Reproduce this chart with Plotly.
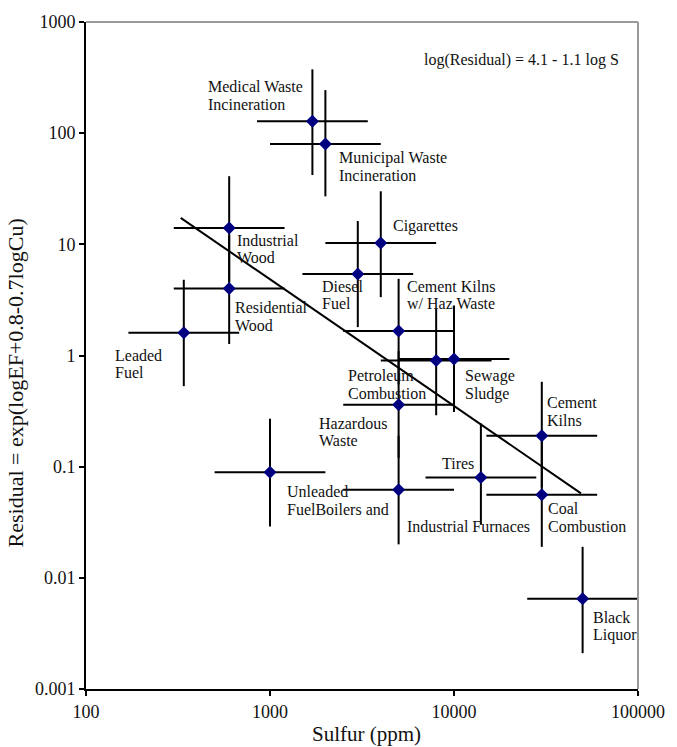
import math
import plotly.graph_objects as go

# ---- data ----
names = ["Medical Waste<br>Incineration", "Municipal Waste<br>Incineration", "Industrial<br>Wood",
         "Cigarettes", "Diesel<br>Fuel", "Cement Kilns<br>w/ Haz Waste", "Residential<br>Wood",
         "Leaded<br>Fuel", "Petroleum<br>Combustion", "Sewage<br>Sludge", "Hazardous<br>Waste",
         "Cement<br>Kilns", "Tires", "Unleaded<br>FuelBoilers and", "Industrial Furnaces",
         "Coal<br>Combustion", "Black<br>Liquor"]
sulfur = [1700, 2000, 600, 4000, 3000, 5000, 600, 340, 8000, 10000, 5000, 30000, 14000, 1000, 5000, 30000, 50000]
residual = [128, 80, 14, 10.3, 5.4, 1.66, 4.0, 1.6, 0.90, 0.93, 0.36, 0.19, 0.080, 0.089, 0.062, 0.056, 0.0065]
sulfur_lo = [850, 1000, 300, 2000, 1500, 2500, 300, 170, 4000, 5000, 2500, 15000, 7000, 500, 2500, 15000, 25000]
sulfur_hi = [3400, 4000, 1200, 8000, 6000, 10000, 1200, 680, 16000, 20000, 10000, 60000, 28000, 2000, 10000, 60000, 100000]
resid_lo = [42, 27, 4.6, 3.35, 1.8, 0.55, 1.27, 0.53, 0.29, 0.31, 0.12, 0.065, 0.030, 0.029, 0.020, 0.019, 0.0021]
resid_hi = [375, 244, 41, 30, 16.2, 4.9, 12, 4.8, 2.64, 2.82, 1.1, 0.58, 0.245, 0.27, 0.19, 0.17, 0.019]

fit_sulfur = [327, 49000]
fit_residual = [17.3, 0.0575]

x_ticks = [100, 1000, 10000, 100000]
x_ticktext = ["100", "1000", "10000", "100000"]
y_ticks = [0.001, 0.01, 0.1, 1, 10, 100, 1000]
y_ticktext = ["0.001", "0.01", "0.1", "1", "10", "100", "1000"]

equation = "log(Residual) = 4.1 - 1.1 log S"
x_title = "Sulfur (ppm)"
y_title = "Residual = exp(logEF+0.8-0.7logCu)"

# label offsets in pixels (left edge dx, vertical centre dy; screen coordinates)
label_dx = [-106, 12, 6, 10, -38, 6, 4, -71, -90, 9, -82, 3, -41, 15, 6, 4, 8]
label_dy = [-26, 23, 21, -17, 21, -36, 28, 31, 24, 26, 27, -24, -14, 28, 37, 23, 28]

FONT = "Liberation Serif, Times New Roman, serif"

fig = go.Figure()

fig.add_trace(go.Scatter(x=fit_sulfur, y=fit_residual, mode="lines",
                         line=dict(color="black", width=2), showlegend=False, hoverinfo="skip"))

fig.add_trace(go.Scatter(
    x=sulfur, y=residual, mode="markers",
    marker=dict(symbol="diamond", size=10, color="#000080"),
    error_x=dict(type="data", symmetric=False,
                 array=[h - v for h, v in zip(sulfur_hi, sulfur)],
                 arrayminus=[v - l for l, v in zip(sulfur_lo, sulfur)],
                 color="black", thickness=2, width=0),
    error_y=dict(type="data", symmetric=False,
                 array=[h - v for h, v in zip(resid_hi, residual)],
                 arrayminus=[v - l for l, v in zip(resid_lo, residual)],
                 color="black", thickness=2, width=0),
    showlegend=False, hoverinfo="skip"))

annotations = []
LINE = 17.5
for name, xs, ys, dx, dy in zip(names, sulfur, residual, label_dx, label_dy):
    lines = name.split("<br>")
    n = len(lines)
    for i, ln in enumerate(lines):
        off = dy + (i - (n - 1) / 2) * LINE
        annotations.append(dict(x=math.log10(xs), y=math.log10(ys),
                                xref="x", yref="y", text=ln, showarrow=False,
                                xanchor="left", yanchor="middle", xshift=dx, yshift=-off,
                                font=dict(family=FONT, size=16, color="#111")))

# plot area spans screen x 86..641, y 22..689
annotations.append(dict(x=(524 - 86) / 555, y=(689 - 60) / 667, xref="paper", yref="paper",
                        text=equation, showarrow=False, xanchor="center", yanchor="middle",
                        font=dict(family=FONT, size=16, color="#111")))
annotations.append(dict(x=(368 - 86) / 555, y=(689 - 734) / 667, xref="paper", yref="paper",
                        text=x_title, showarrow=False, xanchor="center", yanchor="middle",
                        font=dict(family=FONT, size=21, color="#111")))
annotations.append(dict(x=(15 - 86) / 555, y=(689 - 383) / 667, xref="paper", yref="paper",
                        text=y_title, showarrow=False, xanchor="center", yanchor="middle", textangle=-90,
                        font=dict(family=FONT, size=22, color="#111")))

fig.update_layout(
    width=677, height=747,
    margin=dict(l=86, r=36, t=22, b=58),
    paper_bgcolor="white", plot_bgcolor="white",
    showlegend=False,
    annotations=annotations,
    shapes=[
        dict(type="line", xref="paper", yref="paper", x0=0, x1=1, y0=1, y1=1,
             line=dict(color="#9a9a9a", width=2)),
        dict(type="line", xref="paper", yref="paper", x0=1, x1=1, y0=0, y1=1,
             line=dict(color="#9a9a9a", width=2)),
    ],
    xaxis=dict(type="log", range=[2, 5], tickvals=x_ticks, ticktext=x_ticktext,
               showgrid=False, zeroline=False, showline=True, linecolor="black", linewidth=2,
               ticks="outside", ticklen=5, tickwidth=2, tickcolor="black",
               tickfont=dict(family=FONT, size=18, color="#111")),
    yaxis=dict(type="log", range=[-3, 3], tickvals=y_ticks, ticktext=y_ticktext,
               showgrid=False, zeroline=False, showline=True, linecolor="black", linewidth=2,
               ticks="outside", ticklen=5, tickwidth=2, tickcolor="black",
               tickfont=dict(family=FONT, size=18, color="#111")),
)

fig.write_html("out.html", config={"displayModeBar": False},
               post_script="document.body.style.margin='0';document.body.style.overflow='hidden';")
